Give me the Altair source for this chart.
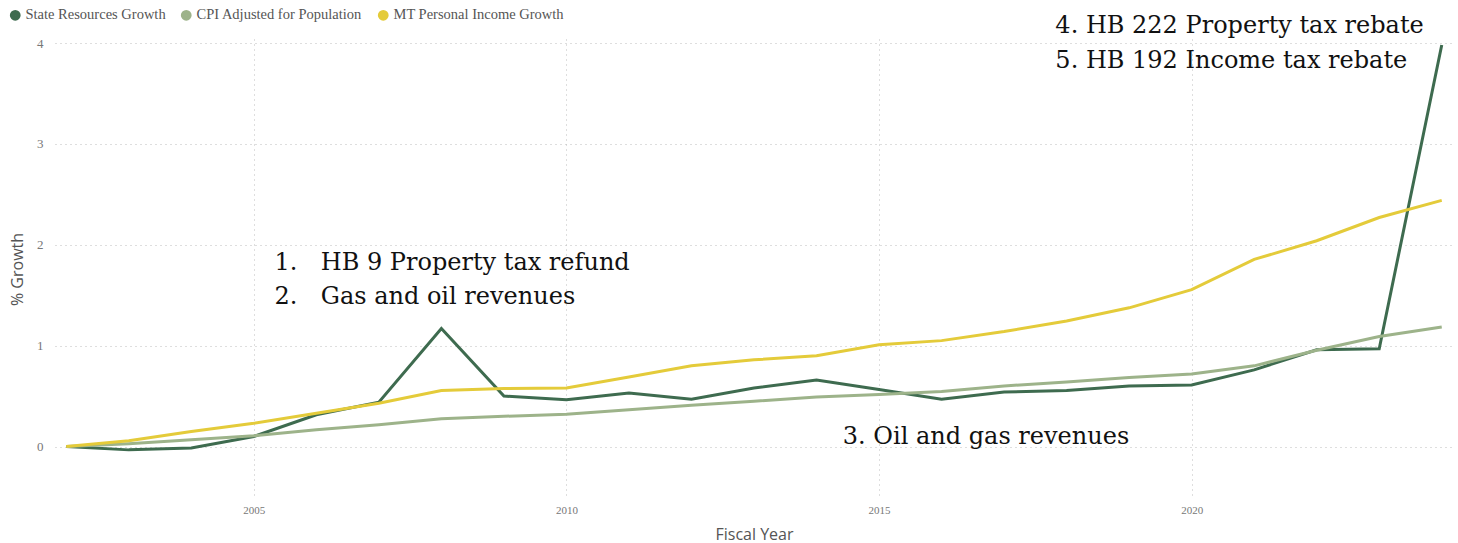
import altair as alt
import pandas as pd

years = list(range(2002, 2025))
state_resources = [0.0, -0.033, -0.015, 0.10, 0.315, 0.44, 1.17, 0.50, 0.465, 0.53, 0.47,
                   0.58, 0.66, 0.565, 0.47, 0.54, 0.555, 0.60, 0.61, 0.76, 0.96, 0.97, 3.98]
cpi_pop = [0.0, 0.027, 0.067, 0.106, 0.166, 0.215, 0.275, 0.30, 0.32, 0.365, 0.41,
           0.45, 0.49, 0.515, 0.545, 0.60, 0.64, 0.685, 0.72, 0.80, 0.955, 1.09, 1.185]
mt_income = [0.0, 0.057, 0.15, 0.23, 0.33, 0.43, 0.556, 0.575, 0.58, 0.69, 0.80,
             0.86, 0.90, 1.01, 1.05, 1.14, 1.245, 1.375, 1.555, 1.855, 2.04, 2.27, 2.44]

series_names = ["State Resources Growth", "CPI Adjusted for Population", "MT Personal Income Growth"]
series_colors = ["#3e6b4f", "#9db38a", "#e4cb3a"]

note_texts = ["1.", "HB 9 Property tax refund", "2.", "Gas and oil revenues",
              "3. Oil and gas revenues", "4. HB 222 Property tax rebate", "5. HB 192 Income tax rebate"]
note_years = [2005.33, 2006.07, 2005.33, 2006.07, 2014.42, 2017.82, 2017.82]
note_values = [1.82, 1.82, 1.485, 1.485, 0.09, 4.17, 3.82]

rows = []
for name, vals in zip(series_names, [state_resources, cpi_pop, mt_income]):
    for y, v in zip(years, vals):
        rows.append({"year": y, "value": v, "series": name})
df = pd.DataFrame(rows)
notes = pd.DataFrame({"text": note_texts, "year": note_years, "value": note_values})

xscale = alt.Scale(domain=[2001.82, 2024.18], nice=False, zero=False)
yscale = alt.Scale(domain=[-0.52, 4.04], nice=False, zero=False)

lines = alt.Chart(df).mark_line(strokeWidth=3).encode(
    x=alt.X("year:Q", scale=xscale,
            axis=alt.Axis(title="Fiscal Year", values=[2005, 2010, 2015, 2020], format="d",
                          grid=True, gridDash=[1, 4], gridColor="#bdbdbd", ticks=False, domain=False,
                          labelFont="Liberation Serif", labelFontSize=11, labelColor="#777777",
                          labelPadding=5, titleFont="Open Sans", titleFontSize=16,
                          titleFontWeight="normal", titleColor="#555555", titlePadding=11)),
    y=alt.Y("value:Q", scale=yscale,
            axis=alt.Axis(title="% Growth", values=[0, 1, 2, 3, 4], format="d",
                          grid=True, gridDash=[1, 4], gridColor="#bdbdbd", ticks=False, domain=False,
                          labelFont="Liberation Serif", labelFontSize=13, labelColor="#777777",
                          labelPadding=12, titleFont="Open Sans", titleFontSize=16,
                          titleFontWeight="normal", titleColor="#555555", titlePadding=11)),
    color=alt.Color("series:N",
                    scale=alt.Scale(domain=series_names, range=series_colors),
                    legend=alt.Legend(title=None, orient="none", legendX=-47, legendY=-31,
                                      direction="horizontal", symbolType="circle",
                                      symbolSize=28, symbolStrokeWidth=5.5, symbolOpacity=1,
                                      labelFont="Liberation Serif", labelFontSize=14.5,
                                      labelColor="#555555", columnPadding=6, symbolOffset=0,
                                      labelOffset=3, labelLimit=400)),
    order=alt.Order("year:Q"),
)

text = alt.Chart(notes).mark_text(align="left", baseline="middle", font="DejaVu Serif",
                                  fontSize=24, color="#111111").encode(
    x=alt.X("year:Q", scale=xscale),
    y=alt.Y("value:Q", scale=yscale),
    text="text:N",
)

chart = alt.layer(lines, text).properties(
    width=1398, height=460,
    autosize=alt.AutoSizeParams(type="none"),
    padding={"left": 55, "top": 39, "right": 5, "bottom": 44},
).configure(background="white").configure_view(stroke=None)

chart.save("out.html", embed_options={"renderer": "svg", "actions": False})
